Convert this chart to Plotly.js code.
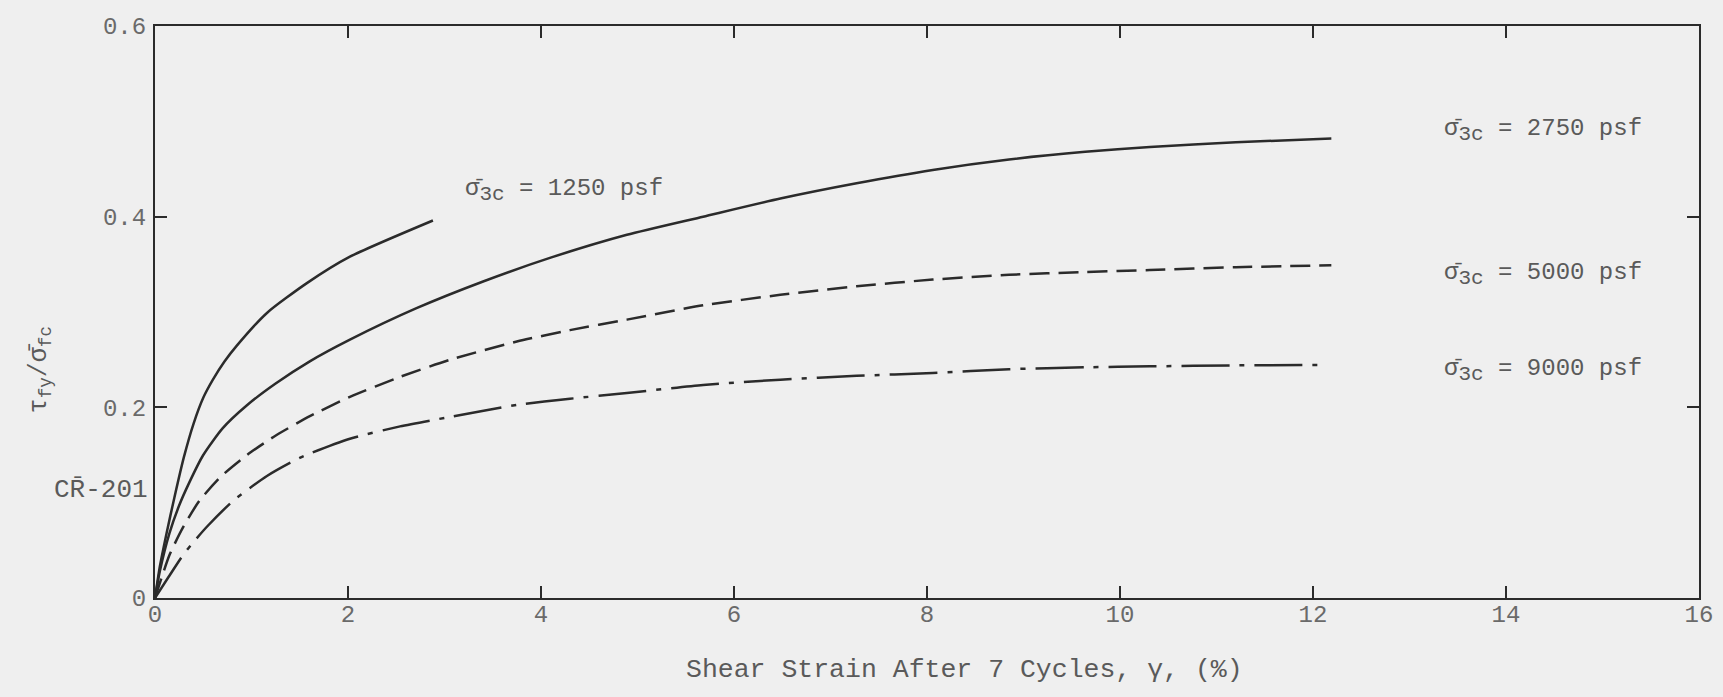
<!DOCTYPE html>
<html>
<head>
<meta charset="utf-8">
<script src="https://cdn.plot.ly/plotly-3.0.1.min.js"></script>
<style>
  html, body { margin: 0; padding: 0; background: #efefef; }
  #chart { width: 1723px; height: 697px; }
</style>
</head>
<body>
<div id="chart"></div>
<script>
// ---- Data ----
const strain1250 = [0, 0.05, 0.12, 0.20, 0.30, 0.40, 0.50, 0.60, 0.72, 0.85, 1.16, 1.57, 2.02, 2.88];
const ratio1250  = [0, 0.033, 0.068, 0.105, 0.148, 0.183, 0.210, 0.229, 0.248, 0.265, 0.299, 0.330, 0.358, 0.396];

const strain2750 = [0, 0.05, 0.15, 0.25, 0.35, 0.50, 0.70, 0.95, 1.25, 1.60, 2.02, 2.71, 3.40, 4.10, 4.89, 5.68, 6.48, 7.27, 8.06, 8.85, 9.64, 10.31, 11.2, 12.19];
const ratio2750  = [0, 0.028, 0.068, 0.097, 0.120, 0.150, 0.178, 0.202, 0.225, 0.248, 0.271, 0.304, 0.332, 0.357, 0.381, 0.400, 0.419, 0.435, 0.449, 0.460, 0.468, 0.473, 0.478, 0.482];

const strain5000 = [0, 0.15, 0.29, 0.46, 0.69, 0.98, 1.26, 1.61, 2.02, 2.54, 3.06, 3.75, 4.30, 4.89, 5.68, 6.48, 7.27, 8.06, 8.85, 9.64, 10.31, 11.2, 12.19];
const ratio5000  = [0, 0.045, 0.074, 0.102, 0.128, 0.152, 0.171, 0.191, 0.211, 0.232, 0.250, 0.269, 0.281, 0.292, 0.307, 0.318, 0.327, 0.334, 0.339, 0.342, 0.344, 0.347, 0.349];

const strain9000 = [0, 0.14, 0.29, 0.41, 0.54, 0.81, 1.16, 1.50, 2.02, 2.54, 3.06, 3.75, 4.30, 4.89, 5.68, 6.48, 7.27, 8.06, 8.85, 9.64, 10.31, 11.2, 12.12];
const ratio9000  = [0, 0.022, 0.045, 0.060, 0.075, 0.102, 0.128, 0.147, 0.167, 0.180, 0.190, 0.2025, 0.209, 0.215, 0.2235, 0.229, 0.233, 0.236, 0.240, 0.242, 0.243, 0.244, 0.2445];

const xTicks = [0, 2, 4, 6, 8, 10, 12, 14, 16];
const xTickText = ['0', '2', '4', '6', '8', '10', '12', '14', '16'];
const yTicks = [0, 0.2, 0.4, 0.6];
const yTickText = ['0', '0.2', '0.4', '0.6'];

const curveLabels = ['1250 psf', '2750 psf', '5000 psf', '9000 psf'];
const xTitle = 'Shear Strain After 7 Cycles, γ, (%)';
const yTitle = 'τ<sub>fy</sub>/σ̄<sub>fc</sub>';
const sideNote = 'CR̄-201';

// ---- Styling ----
const ink = '#2b2b2b';
const textGrey = '#5a5a5a';
const font = 'Liberation Mono, Courier New, monospace';

function line(x, y, dash) {
  return {
    x: x, y: y, type: 'scatter', mode: 'lines',
    line: { color: ink, width: 2.5, dash: dash, shape: 'spline', smoothing: 0.6 },
    hoverinfo: 'skip', showlegend: false
  };
}

const traces = [
  line(strain1250, ratio1250, 'solid'),
  line(strain2750, ratio2750, 'solid'),
  line(strain5000, ratio5000, '20px,9px'),
  line(strain9000, ratio9000, '48px,10px,5px,10px')
];

function sigmaLabel(label, x, y) {
  return {
    text: 'σ̄<sub><span style="font-size:21px">3c</span></sub> = ' + label,
    x: x, y: y, xref: 'x', yref: 'y',
    xanchor: 'left', yanchor: 'middle', showarrow: false,
    font: { family: font, size: 24, color: textGrey }
  };
}

const annotations = [
  sigmaLabel(curveLabels[0], 3.19, 0.427),
  sigmaLabel(curveLabels[1], 13.34, 0.490),
  sigmaLabel(curveLabels[2], 13.34, 0.339),
  sigmaLabel(curveLabels[3], 13.34, 0.239),
  {
    text: yTitle, textangle: -90,
    xref: 'paper', yref: 'paper', x: -0.0745, y: 0.40,
    xanchor: 'center', yanchor: 'middle', showarrow: false,
    font: { family: font, size: 25, color: textGrey }
  },
  {
    text: sideNote,
    xref: 'paper', yref: 'paper', x: -0.003, y: 0.189,
    xanchor: 'right', yanchor: 'middle', showarrow: false,
    font: { family: font, size: 26, color: textGrey }
  },
  {
    text: xTitle,
    xref: 'paper', yref: 'paper', x: 0.5246, y: -0.126,
    xanchor: 'center', yanchor: 'middle', showarrow: false,
    font: { family: font, size: 26.5, color: textGrey }
  }
];

const axisCommon = {
  showgrid: false, zeroline: false,
  showline: true, linecolor: ink, linewidth: 2, mirror: 'ticks',
  ticks: 'inside', ticklen: 12, tickwidth: 2, tickcolor: ink,
  tickfont: { family: font, size: 24, color: '#6a6a6a' },
  fixedrange: true
};

const layout = {
  width: 1723, height: 697,
  margin: { l: 155, r: 24, t: 26, b: 99, pad: 0 },
  paper_bgcolor: '#efefef', plot_bgcolor: '#efefef',
  xaxis: Object.assign({}, axisCommon, {
    range: [0, 16], tickmode: 'array', tickvals: xTicks, ticktext: xTickText,
    ticklabelstandoff: -7
  }),
  yaxis: Object.assign({}, axisCommon, {
    range: [0, 0.6], tickmode: 'array', tickvals: yTicks, ticktext: yTickText,
    ticklabelstandoff: 2
  }),
  annotations: annotations,
  showlegend: false,
  hovermode: false
};

Plotly.newPlot('chart', traces, layout, { displayModeBar: false, staticPlot: true });
</script>
</body>
</html>
